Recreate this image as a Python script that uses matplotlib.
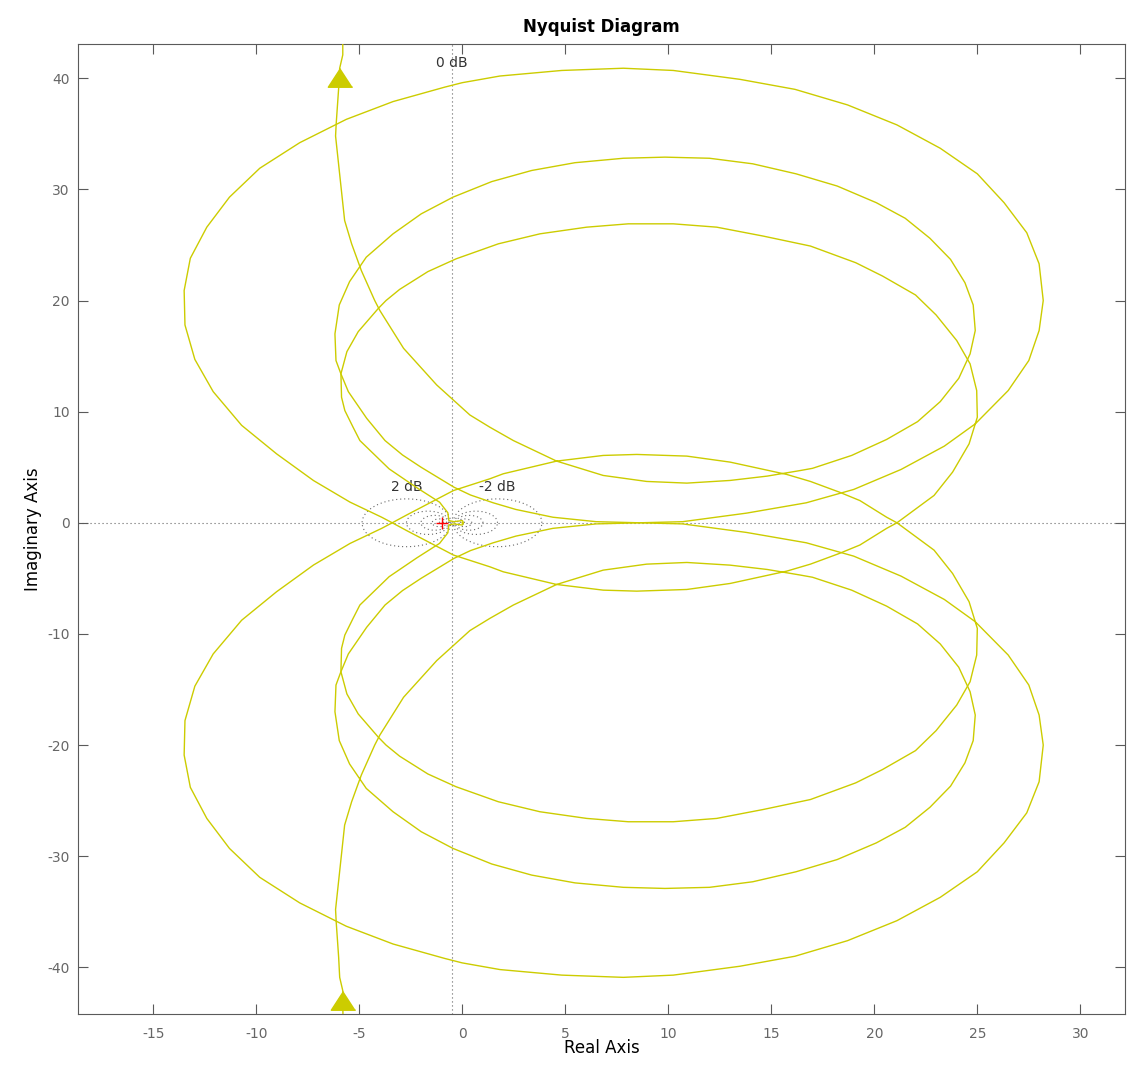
import numpy as np
import matplotlib
matplotlib.use('Agg')
import matplotlib.pyplot as plt

plt.rcParams['axes.unicode_minus'] = False

# branch traced from +j inf; the other branch is its mirror
re_branch = [
    -5.78, -5.8, -5.8, -5.95, -6.0, -6.12, -6.15, -5.71, -5.37, -4.9, -4.25, -4.0,
    -2.85, -1.24, 0.37, 1.34, 2.48, 4.58, 6.84, 8.95, 10.9, 13.0, 14.8, 16.4, 17.0,
    18.9, 20.6, 22.1, 23.2, 24.1, 24.65, 24.9, 24.8, 24.4, 23.7, 22.7, 21.5, 20.1,
    18.2, 16.2, 14.1, 12.0, 9.84, 7.82, 5.47, 3.37, 1.43, -0.45, -1.99, -3.36,
    -4.66, -5.47, -5.97, -6.18, -6.13, -5.89,
    -5.53, -4.64, -3.75, -2.9, -2.0, -1.2, -0.4, 0.4, 1.5, 2.6, 4.4, 6.5, 8.5,
    10.7, 13.8, 16.7, 19.0, 21.3, 23.4, 24.9, 26.5, 27.5, 28.0, 28.2, 28.0, 27.4,
    26.3, 25.0, 23.2, 21.1, 18.7, 16.15, 13.48, 10.24, 7.82, 4.83, 1.83, 0.0,
    -0.85, -3.36, -5.63, -7.89, -9.83, -11.3, -12.4, -13.2, -13.5, -13.46, -12.98,
    -12.09, -10.71, -9.01, -7.22, -5.45, -3.91,
    -3.4, -2.7, -0.43, 1.34, 1.99, 4.58, 6.84, 8.47, 10.9, 13.0, 15.75, 16.9,
    18.3, 19.3, 20.6, 21.1,
    22.9, 23.8, 24.6, 25.0, 24.97, 24.65, 24.0, 23.0, 22.0, 20.4, 19.1, 16.9,
    14.6, 12.35, 10.24, 8.06, 6.04, 3.77, 1.75, -0.3, -1.67, -3.04, -3.7, -4.07,
    -5.05, -5.6, -5.89, -5.86, -5.7, -5.3, -4.97, -3.55, -2.2, -1.1, -0.7, -0.65,
    -0.4, 0.0, 0.05, 0.0,
]
im_branch = [
    45.0, 43.5, 42.1, 40.9, 39.1, 35.9, 34.8, 27.2, 25.1, 22.7, 20.0, 19.1,
    15.7, 12.4, 9.7, 8.6, 7.4, 5.55, 4.26, 3.72, 3.57, 3.81, 4.2, 4.7, 4.9,
    6.06, 7.5, 9.1, 10.9, 13.0, 15.2, 17.3, 19.6, 21.6, 23.7, 25.6, 27.4, 28.8,
    30.3, 31.4, 32.3, 32.8, 32.9, 32.8, 32.4, 31.7, 30.7, 29.3, 27.8, 26.0,
    23.9, 21.7, 19.6, 17.0, 14.6, 13.4,
    11.8, 9.4, 7.4, 6.1, 5.0, 4.1, 3.2, 2.5, 1.8, 1.2, 0.5, 0.1, 0.0,
    -0.1, -0.87, -1.8, -3.0, -4.8, -6.9, -8.9, -11.9, -14.6, -17.3, -20.0, -23.3, -26.1,
    -28.8, -31.4, -33.7, -35.8, -37.6, -39.0, -39.9, -40.7, -40.9, -40.7, -40.2, -39.6,
    -39.2, -37.9, -36.3, -34.2, -31.9, -29.3, -26.6, -23.8, -20.9, -17.8, -14.7,
    -11.8, -8.77, -6.2, -3.8, -1.86, -0.5,
    0.0, 0.7, 2.9, 3.96, 4.41, 5.55, 6.06, 6.15, 6.0, 5.46, 4.35, 3.72,
    2.76, 2.0, 0.5, 0.0,
    -2.46, -4.56, -7.1, -9.5, -11.9, -14.3, -16.4, -18.7, -20.5, -22.2, -23.4, -24.9,
    -25.8, -26.6, -26.9, -26.9, -26.6, -26.0, -25.1, -23.75, -22.6, -21.0, -20.0, -19.3,
    -17.2, -15.4, -13.4, -11.3, -10.1, -8.6, -7.4, -4.85, -3.15, -1.85, -0.9, -0.2,
    -0.1, -0.2, -0.05, 0.0,
]
arrow_idx = 3          # arrow on the drawn branch
arrow_idx_mirror = 2   # arrow on the mirrored branch

m_db = [2, -2, 4, -4, 6, -6, 10, -10, 20, -20]
m_labels = [2, -2]

line_col = '#cccc00'
grid_col = '#666666'
ax_col = '#5a5a5a'

re = np.array(re_branch)
im = np.array(im_branch)

fig = plt.figure(figsize=(11.46, 10.71), dpi=100)
ax = fig.add_axes([0.0681, 0.0532, 0.9136, 0.9054])

dots = (0, (1, 2.6))
# 0 dB line and real axis
ax.axvline(-0.5, color=grid_col, lw=0.8, ls=dots, zorder=1)
ax.axhline(0, color=grid_col, lw=0.8, ls=dots, zorder=1)
t = np.linspace(0, 2 * np.pi, 200)
for db in m_db:
    M = 10 ** (db / 20)
    c = -M ** 2 / (M ** 2 - 1)
    r = abs(M / (M ** 2 - 1))
    ax.plot(c + r * np.cos(t), r * np.sin(t), color=grid_col, lw=0.8, ls=dots, zorder=1)
    if db in m_labels:
        ax.text(c, r + 0.4, f'{db} dB', ha='center', va='bottom', fontsize=10, color='#333333')
ax.text(-0.5, 40.7, '0 dB', ha='center', va='bottom', fontsize=10, color='#333333')

ax.plot(re, im, color=line_col, lw=1.0, zorder=3)
ax.plot(re, -im, color=line_col, lw=1.0, zorder=3)

tri = [(0, 0), (-0.65, -1), (0.65, -1)]
ax.plot(re[arrow_idx], im[arrow_idx], marker=tri, ms=27, color=line_col,
        mec=line_col, ls='none', zorder=4)
ax.plot(re[arrow_idx_mirror], -im[arrow_idx_mirror], marker=tri, ms=27, color=line_col,
        mec=line_col, ls='none', zorder=4)

ax.plot(-1, 0, marker='+', ms=8, color='red', mew=1.0, zorder=5)

ax.set_xlim(-18.65, 32.17)
ax.set_ylim(-44.2, 43.05)
ax.set_xticks(np.arange(-15, 31, 5))
ax.set_yticks(np.arange(-40, 41, 10))
ax.tick_params(direction='in', top=True, right=True, length=7, width=0.8,
               color=ax_col, labelcolor='#666666', labelsize=10)
ax.tick_params(axis='x', pad=9)
ax.tick_params(axis='y', pad=6)
for s in ax.spines.values():
    s.set_color(ax_col)
    s.set_linewidth(0.8)

ax.set_title('Nyquist Diagram', fontsize=12, fontweight='bold', pad=9)
ax.set_xlabel('Real Axis', fontsize=12, labelpad=-1)
ax.set_ylabel('Imaginary Axis', fontsize=12, labelpad=4)

fig.savefig('out.png', dpi=100)
